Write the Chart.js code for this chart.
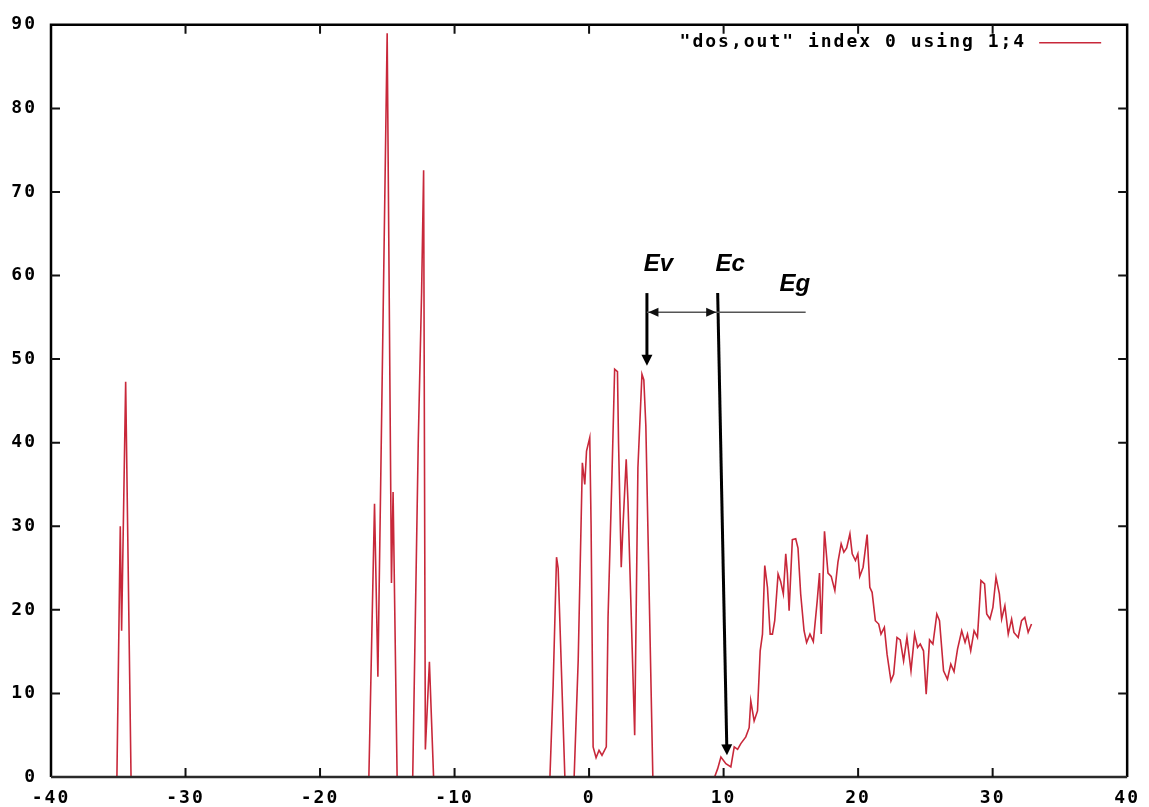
<!DOCTYPE html>
<html>
<head>
<meta charset="utf-8">
<title>dos.out</title>
<script src="https://cdn.jsdelivr.net/npm/chart.js@4.4.1/dist/chart.umd.min.js"></script>
<style>
  html, body { margin: 0; padding: 0; background: #fff; }
  #wrap { width: 1149px; height: 807px; position: relative; }
</style>
</head>
<body>
<div id="wrap"><canvas id="dosChart"></canvas></div>
<script>
// energy (x) and density of states (y)
const energy = [
  -35.10, -34.85, -34.75, -34.45, -34.05,
  -16.37, -15.95, -15.70, -15.01, -14.69, -14.57, -14.27,
  -13.11, -12.70, -12.45, -12.30, -12.17, -11.87, -11.56,
  -2.91, -2.67, -2.42, -2.30, -1.80,
  -1.11, -0.81, -0.50, -0.32, -0.19, 0.05, 0.15, 0.30, 0.52, 0.74, 0.96, 1.28,
  1.41, 1.70, 1.90, 2.11, 2.19, 2.39, 2.52, 2.76, 2.89, 3.39, 3.63, 3.93, 4.07, 4.22, 4.74,
  9.33, 9.56, 9.80, 10.17, 10.54, 10.79, 11.04, 11.28, 11.65, 11.90, 12.02, 12.27, 12.52,
  12.72, 12.89, 13.06, 13.26, 13.46, 13.63, 13.80, 14.05, 14.24, 14.44, 14.62, 14.74, 14.87,
  15.11, 15.36, 15.53, 15.73, 15.98, 16.17, 16.42, 16.67, 16.96, 17.13, 17.26, 17.50, 17.76,
  18.00, 18.27, 18.50, 18.74, 18.94, 19.15, 19.39, 19.56, 19.80, 19.98, 20.12, 20.37, 20.67,
  20.87, 21.04, 21.28, 21.53, 21.70, 21.95, 22.15, 22.44, 22.64, 22.89, 23.13, 23.38, 23.63,
  23.93, 24.20, 24.42, 24.62, 24.86, 25.06, 25.31, 25.56, 25.85, 26.05, 26.35, 26.64, 26.89,
  27.13, 27.39, 27.70, 27.95, 28.13, 28.37, 28.62, 28.87, 29.13, 29.40, 29.56, 29.80, 30.02,
  30.25, 30.50, 30.67, 30.91, 31.16, 31.41, 31.58, 31.90, 32.15, 32.39, 32.64, 32.89
];
const dos = [
  0, 30.0, 17.5, 47.3, 0,
  0, 32.7, 12.0, 89.0, 23.2, 34.1, 0,
  0, 40.0, 58.0, 72.6, 3.3, 13.8, 0,
  0, 11.0, 26.3, 25.0, 0,
  0, 13.9, 37.6, 35.0, 39.0, 40.6, 30.0, 3.6, 2.3, 3.2, 2.6, 3.6,
  19.1, 36.0, 48.8, 48.5, 40.0, 25.1, 30.0, 38.0, 33.0, 5.0, 37.0, 48.2, 47.5, 42.0, 0,
  0, 1.0, 2.4, 1.6, 1.2, 3.6, 3.3, 4.0, 4.8, 5.9, 9.1, 6.7, 7.9,
  15.1, 17.1, 25.3, 22.7, 17.1, 17.1, 18.7, 24.3, 23.4, 21.9, 26.7, 24.4, 19.9,
  28.4, 28.5, 27.4, 21.9, 17.5, 16.1, 17.1, 16.2, 21.1, 24.4, 17.1, 29.4, 24.4,
  24.0, 22.3, 25.7, 27.9, 26.9, 27.4, 29.1, 26.7, 25.9, 26.7, 24.0, 25.1, 29.0,
  22.7, 22.1, 18.7, 18.3, 17.1, 17.9, 14.7, 11.5, 12.3, 16.7, 16.4, 13.9, 16.7,
  12.7, 17.1, 15.5, 15.9, 15.1, 9.9, 16.4, 15.9, 19.5, 18.7, 12.7, 11.7, 13.5,
  12.6, 15.3, 17.5, 16.1, 17.1, 15.1, 17.5, 16.7, 23.5, 23.1, 19.5, 18.9, 20.3,
  23.9, 21.9, 18.9, 20.5, 17.1, 18.9, 17.3, 16.7, 18.7, 19.1, 17.3, 18.3
];

const xRange = [-40, 40];
const yRange = [0, 90];
const keyLabel = '"dos,out" index 0 using 1;4';

// band edge annotations (data units)
const evLine = [[4.3, 57.9], [4.3, 49.2]];
const ecLine = [[9.56, 57.9], [10.25, 2.6]];
const gapLine = [[4.3, 55.6], [16.1, 55.6]];
const gapArrowTips = [4.3, 9.56];
const bandLabels = [
  { text: "Ev", x: 4.07, y: 60.5 },
  { text: "Ec", x: 9.40, y: 60.5 },
  { text: "Eg", x: 14.15, y: 58.1 }
];

const points = energy.map((e, i) => ({ x: e, y: dos[i] }));

const tickFont = { family: "'DejaVu Sans Mono', monospace", size: 18, weight: "bold" };
const lineColor = "#c8283a";

function arrowHead(ctx, tipX, tipY, dx, dy, len, half) {
  const bx = tipX - dx * len, by = tipY - dy * len;
  ctx.beginPath();
  ctx.moveTo(tipX, tipY);
  ctx.lineTo(bx - dy * half, by + dx * half);
  ctx.lineTo(bx + dy * half, by - dx * half);
  ctx.closePath();
  ctx.fill();
}

const spacingPlugin = {
  id: "spacing",
  beforeDraw(chart) {
    chart.ctx.letterSpacing = "2px";
  }
};

const framePlugin = {
  id: "frame",
  afterDatasetsDraw(chart) {
    const { ctx, chartArea: a, scales } = chart;
    const sx = scales.x, sy = scales.y;
    ctx.save();
    ctx.strokeStyle = "#000";

    // frame
    ctx.lineWidth = 2.5;
    ctx.beginPath();
    ctx.moveTo(a.left, a.bottom);
    ctx.lineTo(a.left, a.top);
    ctx.lineTo(a.right, a.top);
    ctx.lineTo(a.right, a.bottom);
    ctx.stroke();
    ctx.lineWidth = 2.4;
    ctx.strokeStyle = "#2a2a2a";
    ctx.beginPath();
    ctx.moveTo(a.left, a.bottom);
    ctx.lineTo(a.right, a.bottom);
    ctx.stroke();

    // inward ticks on all sides
    ctx.strokeStyle = "#111";
    ctx.lineWidth = 2;
    const tl = 9;
    sx.ticks.forEach(t => {
      if (t.value <= xRange[0] || t.value >= xRange[1]) return;
      const px = sx.getPixelForValue(t.value);
      ctx.beginPath();
      ctx.moveTo(px, a.bottom); ctx.lineTo(px, a.bottom - tl);
      ctx.moveTo(px, a.top); ctx.lineTo(px, a.top + tl);
      ctx.stroke();
    });
    sy.ticks.forEach(t => {
      if (t.value <= yRange[0] || t.value >= yRange[1]) return;
      const py = sy.getPixelForValue(t.value);
      ctx.beginPath();
      ctx.moveTo(a.left, py); ctx.lineTo(a.left + tl, py);
      ctx.moveTo(a.right, py); ctx.lineTo(a.right - tl, py);
      ctx.stroke();
    });

    // key
    const keyY = a.top + 18;
    ctx.fillStyle = "#000";
    ctx.font = "bold 18px 'DejaVu Sans Mono', monospace";
    ctx.letterSpacing = "2px";
    ctx.textAlign = "right";
    ctx.textBaseline = "middle";
    ctx.fillText(keyLabel, a.right - 101, keyY);
    ctx.strokeStyle = lineColor;
    ctx.lineWidth = 1.5;
    ctx.beginPath();
    ctx.moveTo(a.right - 88, keyY);
    ctx.lineTo(a.right - 26, keyY);
    ctx.stroke();

    // Ev / Ec / Eg annotation
    ctx.strokeStyle = "#000";
    ctx.fillStyle = "#000";
    const P = p => [sx.getPixelForValue(p[0]), sy.getPixelForValue(p[1])];
    [evLine, ecLine].forEach(seg => {
      const [x1, y1] = P(seg[0]);
      const [x2, y2] = P(seg[1]);
      const len = Math.hypot(x2 - x1, y2 - y1);
      const dx = (x2 - x1) / len, dy = (y2 - y1) / len;
      ctx.lineWidth = 3;
      ctx.beginPath();
      ctx.moveTo(x1, y1);
      ctx.lineTo(x2 - dx * 8, y2 - dy * 8);
      ctx.stroke();
      arrowHead(ctx, x2, y2, dx, dy, 11, 5.5);
    });
    const [gx1, gy] = P(gapLine[0]);
    const [gx2] = P(gapLine[1]);
    ctx.strokeStyle = "#555";
    ctx.lineWidth = 1.5;
    ctx.beginPath();
    ctx.moveTo(gx1, gy);
    ctx.lineTo(gx2, gy);
    ctx.stroke();
    ctx.fillStyle = "#111";
    arrowHead(ctx, sx.getPixelForValue(gapArrowTips[0]) + 1.5, gy, -1, 0, 10, 4.5);
    arrowHead(ctx, sx.getPixelForValue(gapArrowTips[1]) - 1.5, gy, 1, 0, 10, 4.5);

    ctx.fillStyle = "#000";
    ctx.letterSpacing = "0px";
    ctx.font = "italic bold 24px 'Liberation Sans', Arial, sans-serif";
    ctx.textAlign = "left";
    ctx.textBaseline = "alphabetic";
    bandLabels.forEach(l => {
      ctx.fillText(l.text, sx.getPixelForValue(l.x), sy.getPixelForValue(l.y));
    });
    ctx.restore();
  }
};

new Chart(document.getElementById("dosChart"), {
  type: "scatter",
  data: {
    datasets: [{
      label: keyLabel,
      data: points,
      showLine: true,
      borderColor: lineColor,
      borderWidth: 1.6,
      pointRadius: 0,
      tension: 0,
      fill: false
    }]
  },
  options: {
    responsive: true,
    maintainAspectRatio: false,
    animation: false,
    devicePixelRatio: 1,
    layout: { padding: { left: 0, top: 23, right: 18, bottom: 0 } },
    plugins: {
      legend: { display: false },
      tooltip: { enabled: false }
    },
    scales: {
      x: {
        type: "linear",
        min: xRange[0],
        max: xRange[1],
        grid: { display: false, drawTicks: false },
        border: { display: false },
        ticks: { stepSize: 10, color: "#000", font: tickFont, padding: 11, maxRotation: 0 },
        afterFit: s => { s.height = 30; }
      },
      y: {
        min: yRange[0],
        max: yRange[1],
        grid: { display: false, drawTicks: false },
        border: { display: false },
        ticks: { stepSize: 10, color: "#000", font: tickFont, padding: 14 },
        afterFit: s => { s.width = 51; }
      }
    }
  },
  plugins: [spacingPlugin, framePlugin]
});
</script>
</body>
</html>
